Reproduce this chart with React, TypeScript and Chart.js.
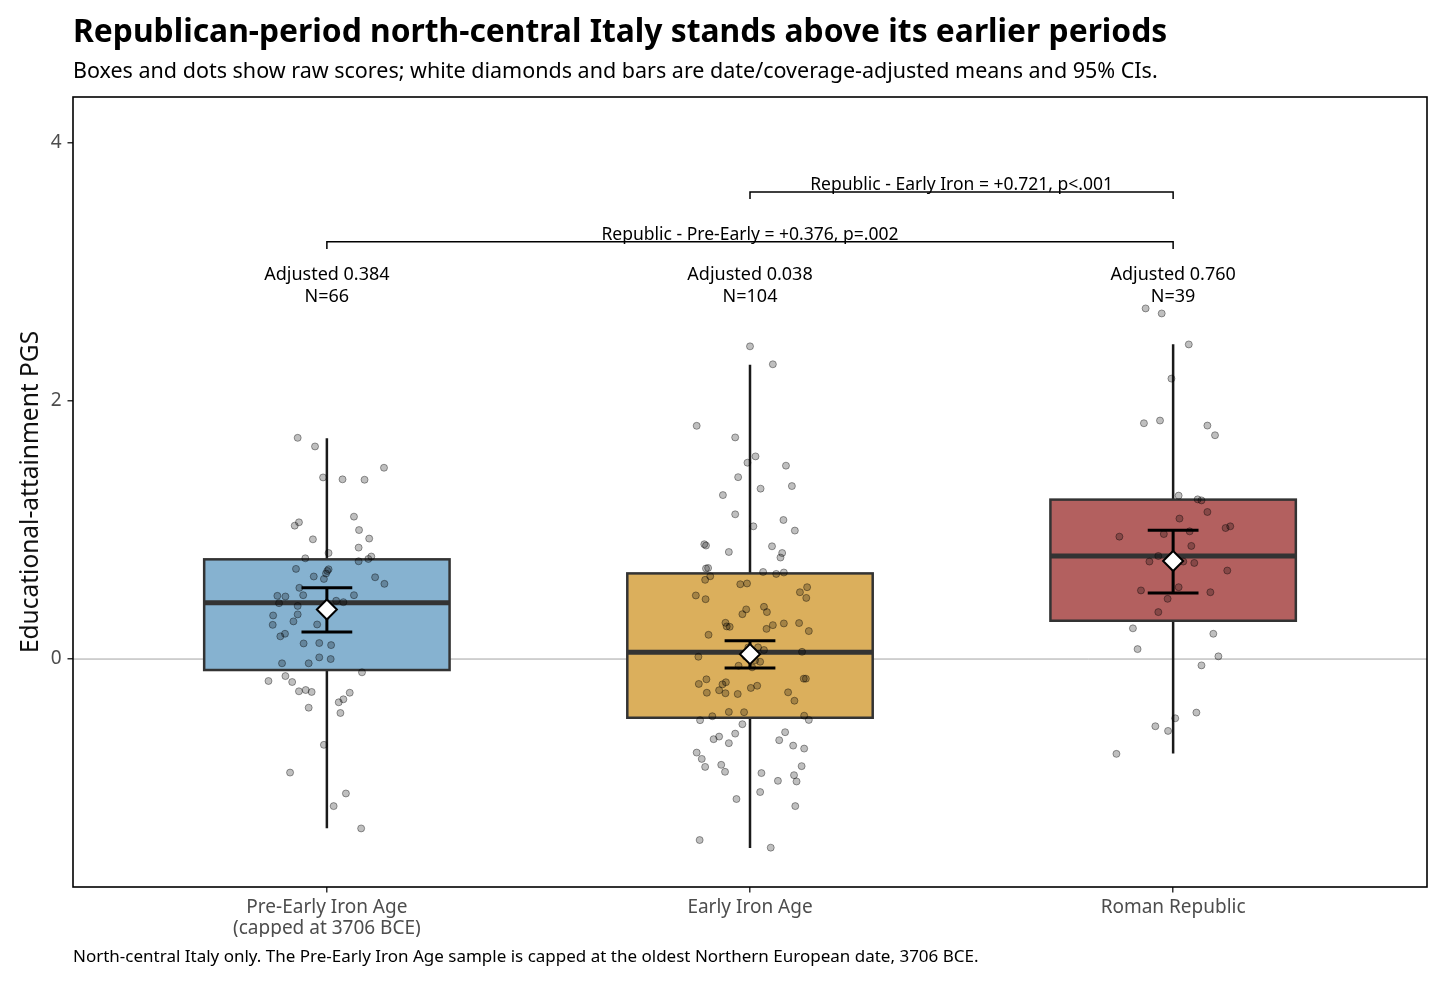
import { useEffect, useRef } from 'react';
import { Chart, registerables } from 'chart.js';

Chart.register(...registerables);

const FONT = '"Noto Sans", sans-serif';

const groupLabels = [['Pre-Early Iron Age', '(capped at 3706 BCE)'], ['Early Iron Age'], ['Roman Republic']];
const yTicks = [0, 2, 4];

// box-plot summaries of the raw scores
const whiskerLow = [-1.312, -1.465, -0.733];
const quartile1 = [-0.085, -0.455, 0.297];
const medians = [0.436, 0.052, 0.798];
const quartile3 = [0.773, 0.664, 1.236];
const whiskerHigh = [1.711, 2.282, 2.44];

// date/coverage-adjusted means with 95% CIs
const adjustedMeans = [0.384, 0.038, 0.76];
const ciLow = [0.209, -0.07, 0.513];
const ciHigh = [0.552, 0.142, 0.998];
const sampleSizes = [66, 104, 39];

const comparisonLabels = ['Republic - Early Iron = +0.721, p<.001', 'Republic - Pre-Early = +0.376, p=.002'];
const comparisonFrom = [1, 0];
const comparisonTo = [2, 2];

// raw scores, with the horizontal jitter of each dot (category units)
const preEarlyScores = [
  1.715, 1.648, 1.483, 1.408, 1.393, 1.39, 1.104, 1.06, 1.034, 1.0, 0.928, 0.934, 0.864, 0.822, 0.781, 0.795,
  0.776, 0.758, 0.699, 0.696, 0.683, 0.663, 0.64, 0.621, 0.634, 0.583, 0.552, 0.495, 0.495, 0.49, 0.485, 0.433,
  0.441, 0.412, 0.338, 0.346, 0.292, 0.265, 0.268, 0.176, 0.196, 0.121, 0.124, 0.108, 0.013, 0.0, -0.033, -0.033,
  -0.103, -0.132, -0.17, -0.178, -0.25, -0.24, -0.255, -0.261, -0.312, -0.335, -0.377, -0.418, -0.665, -0.88,
  -1.042, -1.14, -1.313, 0.452,
];
const preEarlyJitter = [
  -0.069, -0.028, 0.135, -0.009, 0.037, 0.089, 0.064, -0.066, -0.076, 0.076, -0.033, 0.1, 0.075, 0.004, -0.051, 0.105,
  0.098, 0.075, -0.073, 0.004, 0.001, -0.002, -0.031, -0.007, 0.114, 0.136, -0.065, -0.056, 0.064, -0.117, -0.098, -0.113,
  0.039, -0.069, -0.127, -0.069, -0.079, -0.128, -0.023, -0.11, -0.099, -0.055, -0.018, 0.01, -0.018, 0.009, -0.106, -0.043,
  0.083, -0.098, -0.138, -0.082, -0.066, -0.05, -0.036, 0.054, 0.039, 0.028, -0.043, 0.032, -0.007, -0.087,
  0.045, 0.016, 0.081, 0.022,
];
const earlyIronScores = [
  2.424, 2.285, 1.808, 1.718, 1.571, 1.522, 1.499, 1.41, 1.341, 1.321, 1.271, 1.122, 1.078, 1.029, 0.996, 0.89,
  0.88, 0.83, 0.874, 0.822, 0.787, 0.702, 0.706, 0.642, 0.614, 0.675, 0.66, 0.671, 0.58, 0.586, 0.493, 0.464,
  0.518, 0.557, 0.474, 0.385, 0.348, 0.405, 0.364, 0.281, 0.253, 0.25, 0.188, 0.234, 0.263, 0.276, 0.279, 0.217,
  0.091, 0.07, 0.018, 0.056, -0.052, -0.021, -0.064, -0.157, -0.193, -0.196, -0.18, -0.242, -0.261, -0.265,
  -0.271, -0.224, -0.207, -0.152, -0.152, -0.258, -0.323, -0.41, -0.412, -0.439, -0.443, -0.472, -0.474, -0.505,
  -0.578, -0.601, -0.621, -0.652, -0.567, -0.629, -0.671, -0.694, -0.725, -0.774, -0.836, -0.82, -0.874, -0.884,
  -0.83, -0.9, -0.949, -0.944, -1.031, -1.085, -1.14, -1.403, -1.462, 0.06, 0.02, -0.01, 0.09, 0.04,
];
const earlyIronJitter = [
  0.0, 0.054, -0.126, -0.035, 0.013, -0.006, 0.085, -0.028, 0.099, 0.025, -0.064, -0.035, 0.079, 0.008, 0.106, -0.108,
  -0.104, -0.05, 0.052, 0.076, 0.072, -0.104, -0.099, -0.094, -0.106, 0.031, 0.062, 0.08, -0.023, -0.007, -0.128, -0.105,
  0.118, 0.135, 0.133, -0.009, -0.018, 0.033, 0.04, -0.058, -0.055, -0.048, -0.098, 0.039, 0.054, 0.08, 0.116, 0.139,
  0.019, 0.033, -0.122, 0.123, -0.027, 0.024, 0.005, -0.103, -0.121, -0.065, -0.057, -0.073, -0.102, -0.058,
  -0.029, 0.002, 0.017, 0.127, 0.132, 0.09, 0.105, -0.05, -0.014, 0.128, -0.089, 0.139, -0.118, -0.018,
  -0.035, -0.073, -0.086, -0.05, 0.083, 0.069, 0.102, 0.128, -0.126, -0.114, -0.106, -0.068, -0.059, 0.027,
  0.122, 0.104, 0.11, 0.066, 0.024, -0.032, 0.107, -0.119, 0.049, 0.008, -0.01, 0.012, -0.004, 0.002,
];
const republicScores = [
  2.718, 2.679, 2.439, 2.174, 1.828, 1.849, 1.81, 1.735, 1.267, 1.238, 1.23, 1.14, 1.089, 1.016, 1.029, 0.949,
  0.969, 0.99, 0.877, 0.799, 0.756, 0.756, 0.745, 0.686, 0.557, 0.532, 0.518, 0.467, 0.364, 0.238, 0.196, 0.077,
  0.021, -0.049, -0.415, -0.459, -0.521, -0.557, -0.735,
];
const republicJitter = [
  -0.065, -0.027, 0.037, -0.004, -0.069, -0.031, 0.081, 0.099, 0.013, 0.058, 0.067, 0.081, 0.015, 0.124, 0.135, -0.127,
  -0.022, 0.039, 0.043, -0.035, -0.056, 0.024, 0.05, 0.128, 0.013, -0.076, 0.088, -0.013, -0.035, -0.095, 0.095, -0.084,
  0.107, 0.067, 0.055, 0.005, -0.042, -0.012, -0.134,
];

const groupScores = [preEarlyScores, earlyIronScores, republicScores];
const groupJitter = [preEarlyJitter, earlyIronJitter, republicJitter];

const boxFill = ['#86b2d0', '#dbaf5c', '#b3605f'];
const BOX_HALF = 0.29;
const CAP_HALF = 0.06;

const line = (ctx: CanvasRenderingContext2D, x1: number, y1: number, x2: number, y2: number) => {
  ctx.beginPath();
  ctx.moveTo(x1, y1);
  ctx.lineTo(x2, y2);
  ctx.stroke();
};

const boxPlugin = {
  id: 'boxes',
  beforeDatasetsDraw(chart: any) {
    const { ctx, chartArea, scales: { x, y } } = chart;
    ctx.save();
    ctx.strokeStyle = '#a3a3a3';
    ctx.lineWidth = 1;
    const y0 = y.getPixelForValue(0);
    line(ctx, chartArea.left, y0, chartArea.right, y0);

    groupLabels.forEach((_, i) => {
      const cx = x.getPixelForValue(i);
      const left = x.getPixelForValue(i - BOX_HALF);
      const right = x.getPixelForValue(i + BOX_HALF);
      ctx.strokeStyle = '#1a1a1a';
      ctx.lineWidth = 2.5;
      line(ctx, cx, y.getPixelForValue(whiskerLow[i]), cx, y.getPixelForValue(whiskerHigh[i]));

      const top = y.getPixelForValue(quartile3[i]);
      const bottom = y.getPixelForValue(quartile1[i]);
      ctx.fillStyle = boxFill[i];
      ctx.fillRect(left, top, right - left, bottom - top);
      ctx.strokeStyle = '#333333';
      ctx.lineWidth = 2.5;
      ctx.strokeRect(left, top, right - left, bottom - top);

      ctx.lineWidth = 5;
      const ym = y.getPixelForValue(medians[i]);
      line(ctx, left, ym, right, ym);
    });
    ctx.restore();
  },
  afterDatasetDraw(chart: any, args: any) {
    if (args.index !== 1) return;
    const { ctx, scales: { x, y } } = chart;
    ctx.save();
    ctx.strokeStyle = '#000000';
    ctx.lineWidth = 3;
    adjustedMeans.forEach((_, i) => {
      const cx = x.getPixelForValue(i);
      const l = x.getPixelForValue(i - CAP_HALF);
      const r = x.getPixelForValue(i + CAP_HALF);
      const lo = y.getPixelForValue(ciLow[i]);
      const hi = y.getPixelForValue(ciHigh[i]);
      line(ctx, cx, lo, cx, hi);
      line(ctx, l, lo, r, lo);
      line(ctx, l, hi, r, hi);
    });
    ctx.restore();
  },
  afterDraw(chart: any) {
    const { ctx, chartArea, scales: { x, y } } = chart;
    ctx.save();

    // comparison brackets
    const levels = [3.621, 3.234];
    ctx.strokeStyle = '#000000';
    ctx.lineWidth = 1.5;
    ctx.fillStyle = '#000000';
    ctx.font = `17.5px ${FONT}`;
    ctx.textAlign = 'center';
    ctx.textBaseline = 'middle';
    comparisonLabels.forEach((label, k) => {
      const x1 = x.getPixelForValue(comparisonFrom[k]);
      const x2 = x.getPixelForValue(comparisonTo[k]);
      const yl = y.getPixelForValue(levels[k]);
      const yt = y.getPixelForValue(levels[k] - 0.055);
      ctx.beginPath();
      ctx.moveTo(x1, yt);
      ctx.lineTo(x1, yl);
      ctx.lineTo(x2, yl);
      ctx.lineTo(x2, yt);
      ctx.stroke();
      ctx.fillText(label, (x1 + x2) / 2, yl - 7);
    });

    // adjusted mean labels
    ctx.font = `18px ${FONT}`;
    adjustedMeans.forEach((m, i) => {
      const cx = x.getPixelForValue(i);
      const ty = y.getPixelForValue(2.98);
      ctx.fillText(`Adjusted ${m.toFixed(3)}`, cx, ty);
      ctx.fillText(`N=${sampleSizes[i]}`, cx, ty + 22);
    });

    // panel border
    ctx.lineWidth = 1.6;
    ctx.strokeRect(chartArea.left, chartArea.top, chartArea.right - chartArea.left, chartArea.bottom - chartArea.top);

    // title, subtitle, caption
    ctx.textAlign = 'left';
    ctx.fillStyle = '#000000';
    ctx.font = `bold 31.8px ${FONT}`;
    ctx.fillText('Republican-period north-central Italy stands above its earlier periods', chartArea.left, 33);
    ctx.font = `21.5px ${FONT}`;
    ctx.fillText(
      'Boxes and dots show raw scores; white diamonds and bars are date/coverage-adjusted means and 95% CIs.',
      chartArea.left,
      72,
    );
    ctx.font = `17px ${FONT}`;
    ctx.fillText(
      'North-central Italy only. The Pre-Early Iron Age sample is capped at the oldest Northern European date, 3706 BCE.',
      chartArea.left,
      957,
    );
    ctx.restore();
  },
};

const App = () => {
  const chartRef = useRef<HTMLCanvasElement | null>(null);

  useEffect(() => {
    document.body.style.margin = '0';
    if (!chartRef.current) return;
    const ctx = chartRef.current.getContext('2d');
    if (!ctx) return;

    const dots = groupScores.flatMap((scores, i) =>
      scores.map((s, j) => ({ x: i + groupJitter[i][j], y: s })),
    );

    const chart = new Chart(ctx, {
      type: 'scatter',
      data: {
        datasets: [
          {
            data: adjustedMeans.map((m, i) => ({ x: i, y: m })),
            pointStyle: 'rectRot',
            pointRadius: 10,
            backgroundColor: '#ffffff',
            borderColor: '#000000',
            borderWidth: 2,
          },
          {
            data: dots,
            pointRadius: 3.5,
            backgroundColor: 'rgba(0,0,0,0.25)',
            borderColor: 'rgba(0,0,0,0.38)',
            borderWidth: 1,
          },
        ],
      },
      options: {
        responsive: true,
        maintainAspectRatio: false,
        animation: false,
        events: [],
        layout: { padding: { top: 97, right: 29, bottom: 51, left: 0 } },
        plugins: {
          legend: { display: false },
          tooltip: { enabled: false },
        },
        scales: {
          x: {
            type: 'linear',
            min: -0.6,
            max: 2.6,
            bounds: 'data',
            afterBuildTicks: (scale: any) => {
              scale.ticks = groupLabels.map((_, i) => ({ value: i }));
            },
            afterFit: (scale: any) => {
              scale.height = 50;
            },
            ticks: {
              autoSkip: false,
              maxRotation: 0,
              padding: 4.5,
              color: '#4d4d4d',
              font: { family: FONT, size: 19, lineHeight: 1.12 },
              callback: (v: any) => groupLabels[v],
            },
            grid: { display: true, drawOnChartArea: false, drawTicks: true, tickLength: 5.5, color: '#333333', lineWidth: 1.5 },
            border: { display: false },
          },
          y: {
            type: 'linear',
            min: -1.767,
            max: 4.357,
            bounds: 'data',
            afterBuildTicks: (scale: any) => {
              scale.ticks = yTicks.map((v) => ({ value: v }));
            },
            afterFit: (scale: any) => {
              scale.width = 73;
            },
            ticks: {
              padding: 6,
              color: '#4d4d4d',
              font: { family: FONT, size: 19 },
              callback: (v: any) => String(v),
            },
            grid: { display: true, drawOnChartArea: false, drawTicks: true, tickLength: 5.5, color: '#333333', lineWidth: 1.5 },
            border: { display: false },
            title: {
              display: true,
              text: 'Educational-attainment PGS',
              color: '#111111',
              font: { family: FONT, size: 24.5 },
              padding: { top: 16, bottom: 0 },
            },
          },
        },
      },
      plugins: [boxPlugin],
    });

    return () => chart.destroy();
  }, []);

  return (
    <div style={{ position: 'relative', width: '1456px', height: '988px' }}>
      <canvas ref={chartRef} />
    </div>
  );
};

export default App;
